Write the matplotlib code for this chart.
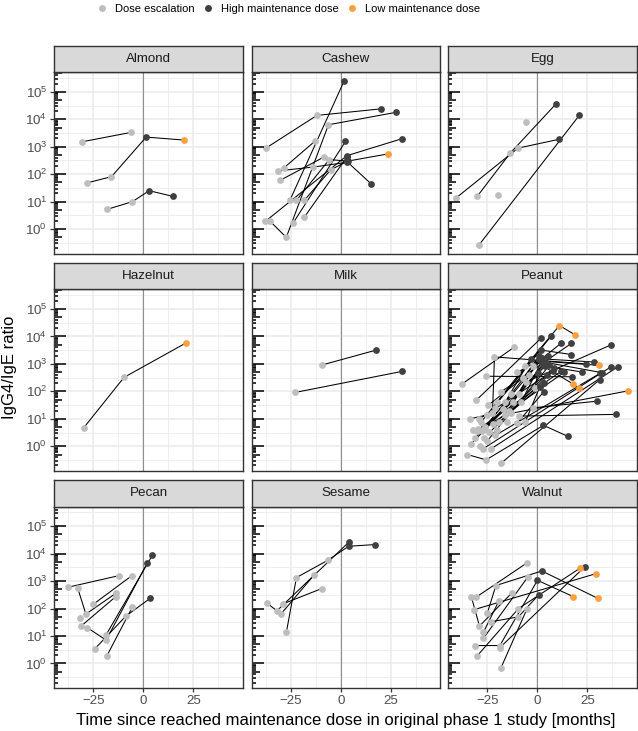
import numpy as np
import pandas as pd
import matplotlib
matplotlib.use("Agg")
import matplotlib.pyplot as plt
from matplotlib.lines import Line2D
from matplotlib.collections import LineCollection
from matplotlib.ticker import FixedLocator, FuncFormatter, NullFormatter

plt.rcParams['font.family'] = ['Liberation Sans', 'DejaVu Sans']
plt.rcParams['mathtext.fontset'] = 'custom'
plt.rcParams['mathtext.rm'] = 'Liberation Sans'
plt.rcParams['mathtext.it'] = 'Liberation Sans:italic'
plt.rcParams['mathtext.bf'] = 'Liberation Sans:bold'

# ---------------- data ----------------
ALLERGENS = ["Almond", "Cashew", "Egg", "Hazelnut", "Milk", "Peanut",
             "Pecan", "Sesame", "Walnut"]
PHASE_CODES = ["E", "H", "L"]
PHASE_LABELS = ["Dose escalation", "High maintenance dose", "Low maintenance dose"]
PHASE_COLORS = ["#BEBEBE", "#404040", "#FBA043"]
X_TICKS = [-25, 0, 25]
Y_DECADES = [0, 1, 2, 3, 4, 5]

almond_subject = [1, 1, 2, 2, 2, 2, 3, 3, 3, 3]
almond_month = [-30.8, -6.3, -28.3, -16, 1.35, 20.5, -18.3, -5.5, 2.85, 14.85]
almond_ratio = [1510, 3310, 48, 81, 2240, 1740, 5.2, 10, 25, 15.5]
almond_phase = list("EEEEHLEEHH")

cashew_subject = [1, 1, 1, 2, 2, 2, 2, 3, 3, 4, 4, 5, 5, 6, 6, 7, 7, 7,
                  8, 8, 8, 8, 9, 9, 9, 9, 10, 10, 10, 11, 11]
cashew_month = [-37.5, -12, 20.3, -35.3, -27.3, -6.2, 27.5, -25.5, 1.67,
                -23.8, 2.3, -28.3, -13, -30.5, -8.3, -31.3, -13.7, 3.2,
                -22.2, -5.8, 3.5, 23.8, -18.3, -5, 3.0, 15.2,
                -37.8, 3.0, 30.5, -18.3, 3.0]
cashew_ratio = [890, 13800, 24000, 1.9, 0.5, 6300, 17800, 11.2, 250000,
                1.7, 1550, 174, 1580, 59, 427, 132, 182, 270,
                11.2, 339, 300, 550, 11.2, 145, 290, 44,
                1.9, 470, 1950, 2.7, 420]
cashew_phase = list("EEH" "EEEH" "EH" "EH" "EE" "EE" "EEH" "EEHL" "EEHH" "EHH" "EH")

egg_subject = [1, 1, 1, 2, 2, 2, 3, 3, 4, 5]
egg_month = [-40.5, -9.7, 10.8, -30, -13.7, 9.3, -29.3, 21, -5.7, -19.5]
egg_ratio = [14, 890, 1860, 16, 575, 36300, 0.26, 14100, 8100, 18]
egg_phase = list("EEH" "EEH" "EH" "E" "E")

hazelnut_subject = [1, 1, 1]
hazelnut_month = [-29.8, -9.7, 21.2]
hazelnut_ratio = [4.8, 324, 5750]
hazelnut_phase = list("EEL")

milk_subject = [1, 1, 2, 2]
milk_month = [-9.5, 17.5, -23, 30.8]
milk_ratio = [912, 3160, 91, 537]
milk_phase = list("EHEH")

peanut_subject = [1, 1, 2, 2, 2, 3, 3, 4, 4, 5, 5, 5, 6, 6, 6, 6, 7, 7, 7,
                  8, 8, 9, 9, 10, 10, 10, 11, 11, 11, 11, 12, 12, 12,
                  13, 13, 13, 14, 14, 14, 15, 15, 16, 16, 17, 17, 18, 18,
                  19, 19, 20, 20, 21, 21, 22, 22, 23, 23, 24, 24,
                  25, 25, 25, 25, 26, 26, 27, 27, 28, 28, 28,
                  29, 30, 31, 32, 33, 34, 35, 36,
                  37, 37, 38, 38, 38, 39, 39, 40, 40, 41, 41, 42, 42,
                  43, 43, 44, 44, 44, 45, 45, 45, 46, 46]
peanut_month = [-37.5, -11.8, -22.5, -21.5, 24.3, -25.8, 17.3, -30.7, 1.7,
                -33.7, -25, 6.8, -28, -6, 11, 18.8, -26, -2.3, 11.7,
                -18.3, 17, -5.7, 37, -20, 1.7, 17, -16, -3.3, 17.8, 20.7,
                -12, 1.0, 28.5, -8, 2.2, 30.7, -27.5, 3.8, 22.2, -24, 7.7,
                -29.5, 12, -27.3, 36.7, -23.3, 40.2, -18.2, 31.2, -21, 31.2,
                -1.2, 0.2, -13, 45.5, -2.3, 29.8, -9, 39.3,
                -35, -25.7, 3, 15.2, -6, 1.2, -10, 3.2, -30, -16, -4,
                -15, -20, -17, -32, -26.5, -28.5, -21, -13,
                -31, 2.5, -27, 4.5, 32.3, -25, 6, -22, 8.5, -29, 5, -19, 3.5,
                -14, 13.5, -33, -9, 2.8, -24.5, -7, 1, -10, 5.5]
peanut_ratio = [190, 4000, 16, 1800, 1000, 355, 340, 47, 8500,
                10, 14, 10200, 7.9, 830, 25000, 11500, 5, 830, 5600,
                95, 5600, 220, 5000, 40, 3200, 2200, 42, 1550, 186, 129,
                40, 1550, 1170, 42, 1260, 890, 3.5, 830, 510, 3.2, 550,
                4.2, 550, 0.8, 780, 0.8, 780, 0.24, 270, 2.5, 450,
                135, 460, 16, 105, 25, 44, 12.6, 14.5,
                0.5, 0.32, 5.8, 2.3, 7.9, 150, 7.1, 98, 3.5, 14, 400,
                7.9, 4, 22, 4, 2.0, 1.0, 25, 80,
                2.0, 1580, 4, 1120, 480, 1.6, 890, 6.3, 710, 10, 400, 7.9, 200,
                20, 500, 1.26, 80, 1000, 32, 316, 2000, 500, 2000]
peanut_phase = list("EE" "EEH" "EH" "EH" "EEH" "EELL" "EEH" "EH" "EH" "EHH"
                    "EHLL" "EHH" "EHL" "EHH" "EH" "EH" "EH" "EH" "EH" "EH"
                    "EH" "EL" "EH" "EH" "EEHH" "EH" "EH" "EEE"
                    "EEEEEEEE"
                    "EH" "EHH" "EH" "EH" "EH" "EH" "EH" "EEH" "EEH" "EH")

pecan_subject = [1, 1, 2, 2, 2, 3, 3, 4, 4, 5, 5, 5, 6, 6, 7, 7, 7, 8, 8, 9]
pecan_month = [-37.7, -12.3, -32.9, -28.8, -13.8, -25, -5.8, -31.2, -13.8,
               -28, -18.7, 2, -18.7, 4.5, -24.2, -8.7, 3.5, -18.3, -5.5, -31.8]
pecan_ratio = [600, 1580, 560, 63, 360, 145, 1580, 23, 275,
               20, 7.1, 4700, 11, 8900, 3.5, 54, 240, 1.9, 115, 44]
pecan_phase = list("EE" "EEE" "EE" "EE" "EEH" "EH" "EEH" "EE" "E")

sesame_subject = [1, 1, 1, 1, 1, 2, 2, 2, 3, 3, 4, 4]
sesame_month = [-27.2, -22.2, -6.5, 3.9, 17, -36.8, -32, 4.3, -30, -13.3, -28.7, -9.5]
sesame_ratio = [14.5, 1350, 5750, 18600, 21400, 155, 83, 27500, 63, 1700, 151, 537]
sesame_phase = list("EEEHH" "EEH" "EE" "EE")

walnut_subject = [1, 1, 2, 2, 2, 3, 3, 4, 4, 4, 4, 5, 5, 6, 6, 6,
                  7, 7, 7, 7, 8, 8, 9, 9, 9, 10, 10, 11, 11]
walnut_month = [-30.8, -5.3, -33, -29, -12.8, -31.8, 29.2, -25, -20.8, 2.2, 30.3,
                -27, -19.2, -23.3, -9.5, 0.7, -31.3, -18.8, 0, 17.8,
                -18.8, 23.8, -30, -9.5, 21.3, -18.3, -5.3, -27, -4.7]
walnut_ratio = [257, 4570, 257, 23, 372, 91, 1860, 71, 690, 2340, 234,
                13.8, 195, 33, 50, 324, 4.5, 4.5, 1070, 275,
                3.8, 3390, 1.95, 100, 2950, 0.68, 95, 8.3, 1450]
walnut_phase = list("EE" "EEE" "EL" "EEHL" "EE" "EEH" "EEHL" "EH" "EEL" "EE" "EE")

RAW = {
    "Almond": (almond_subject, almond_month, almond_ratio, almond_phase),
    "Cashew": (cashew_subject, cashew_month, cashew_ratio, cashew_phase),
    "Egg": (egg_subject, egg_month, egg_ratio, egg_phase),
    "Hazelnut": (hazelnut_subject, hazelnut_month, hazelnut_ratio, hazelnut_phase),
    "Milk": (milk_subject, milk_month, milk_ratio, milk_phase),
    "Peanut": (peanut_subject, peanut_month, peanut_ratio, peanut_phase),
    "Pecan": (pecan_subject, pecan_month, pecan_ratio, pecan_phase),
    "Sesame": (sesame_subject, sesame_month, sesame_ratio, sesame_phase),
    "Walnut": (walnut_subject, walnut_month, walnut_ratio, walnut_phase),
}

frames = []
for name in ALLERGENS:
    s, m, r, p = RAW[name]
    frames.append(pd.DataFrame({"allergen": name, "subject": s, "month": m,
                                "ratio": r, "phase": p}))
data = pd.concat(frames, ignore_index=True)

# ---------------- layout ----------------
W, H = 638, 731
fig = plt.figure(figsize=(W / 100, H / 100), dpi=100)

col_left = [54.3, 251.7, 448.3]
panel_w = 188.3
strip_top = [45.7, 262.9, 480.1]
strip_h = 26.6
panel_h = 181.5

XLIM = (-44.6, 49.6)
YLIM = (10 ** -0.9, 10 ** 5.71)

def fig_rect(x, y, w, h):
    return [x / W, 1 - (y + h) / H, w / W, h / H]

BORDER = "#333333"
GRID = "#EBEBEB"

for i, name in enumerate(ALLERGENS):
    r, c = divmod(i, 3)
    x0 = col_left[c]
    ytop = strip_top[r] + strip_h
    ax = fig.add_axes(fig_rect(x0, ytop, panel_w, panel_h))
    sax = fig.add_axes(fig_rect(x0, strip_top[r], panel_w, strip_h))
    sax.set_facecolor("#D9D9D9")
    sax.set_xticks([]); sax.set_yticks([])
    for sp in sax.spines.values():
        sp.set_color(BORDER); sp.set_linewidth(1.0)
    sax.text(0.5, 0.5, name, ha="center", va="center", fontsize=9.6,
             color="#1A1A1A", transform=sax.transAxes)

    ax.set_yscale("log")
    ax.set_xlim(*XLIM)
    ax.set_ylim(*YLIM)
    ax.xaxis.set_major_locator(FixedLocator(X_TICKS))
    ax.xaxis.set_minor_locator(FixedLocator([-37.5, -12.5, 12.5, 37.5]))
    ax.yaxis.set_major_locator(FixedLocator([10.0 ** k for k in Y_DECADES]))
    ax.yaxis.set_minor_locator(FixedLocator([10.0 ** (k + 0.5) for k in range(-1, 6)]))
    ax.yaxis.set_minor_formatter(NullFormatter())
    ax.yaxis.set_major_formatter(FuncFormatter(lambda v, p: r"$10^{%d}$" % round(np.log10(v))))
    ax.grid(which="major", color=GRID, lw=1.1, zorder=0)
    ax.grid(which="minor", color=GRID, lw=0.55, zorder=0)
    ax.set_axisbelow(True)
    ax.tick_params(which="minor", length=0)
    ax.tick_params(which="major", length=3.0, width=0.9, color=BORDER,
                   labelsize=9.6, labelcolor="#4D4D4D", pad=2)
    if c != 0:
        ax.tick_params(axis="y", which="major", length=0, labelleft=False)
    if r != 2:
        ax.tick_params(axis="x", which="major", length=0, labelbottom=False)
    for sp in ax.spines.values():
        sp.set_color(BORDER); sp.set_linewidth(1.0); sp.set_zorder(6)

    ax.axvline(0, color="#8F8F8F", lw=0.8, zorder=1)

    # log ticks inside left edge
    segs = []
    for k in range(-1, 6):
        for mlt in range(1, 10):
            v = mlt * 10.0 ** k
            if YLIM[0] <= v <= YLIM[1]:
                L = 11.8 if mlt == 1 else (7.9 if mlt == 5 else 3.9)
                segs.append([(0, v), (L / panel_w, v)])
    ax.add_collection(LineCollection(segs, colors="black", linewidths=1.1,
                                     transform=ax.get_yaxis_transform(), zorder=5))

    df = data[data.allergen == name]
    for sid, g in df.groupby("subject", sort=False):
        ax.plot(g.month, g.ratio, color="black", lw=0.75, zorder=3)
    for code, col in zip(PHASE_CODES, PHASE_COLORS):
        sel = df[df.phase == code]
        ax.scatter(sel.month, sel.ratio, s=24, color=col, linewidths=0, zorder=4)

# axis titles
fig.text(345.5 / W, 1 - 720 / H, "Time since reached maintenance dose in original phase 1 study [months]",
         ha="center", va="center", fontsize=12)
fig.text(10 / W, 1 - 367 / H, "IgG4/IgE ratio", rotation=90, ha="center", va="center", fontsize=12)

handles = [Line2D([], [], marker="o", ls="", color=col, markersize=5.0, markeredgewidth=0)
           for col in PHASE_COLORS]
fig.legend(handles, PHASE_LABELS, loc="center", bbox_to_anchor=(288.8 / W, 1 - 8.5 / H),
           ncol=3, frameon=False, fontsize=8, handlelength=0.8, handletextpad=0.77,
           columnspacing=0.77, borderpad=0, borderaxespad=0)

fig.savefig("out.png", dpi=100)
